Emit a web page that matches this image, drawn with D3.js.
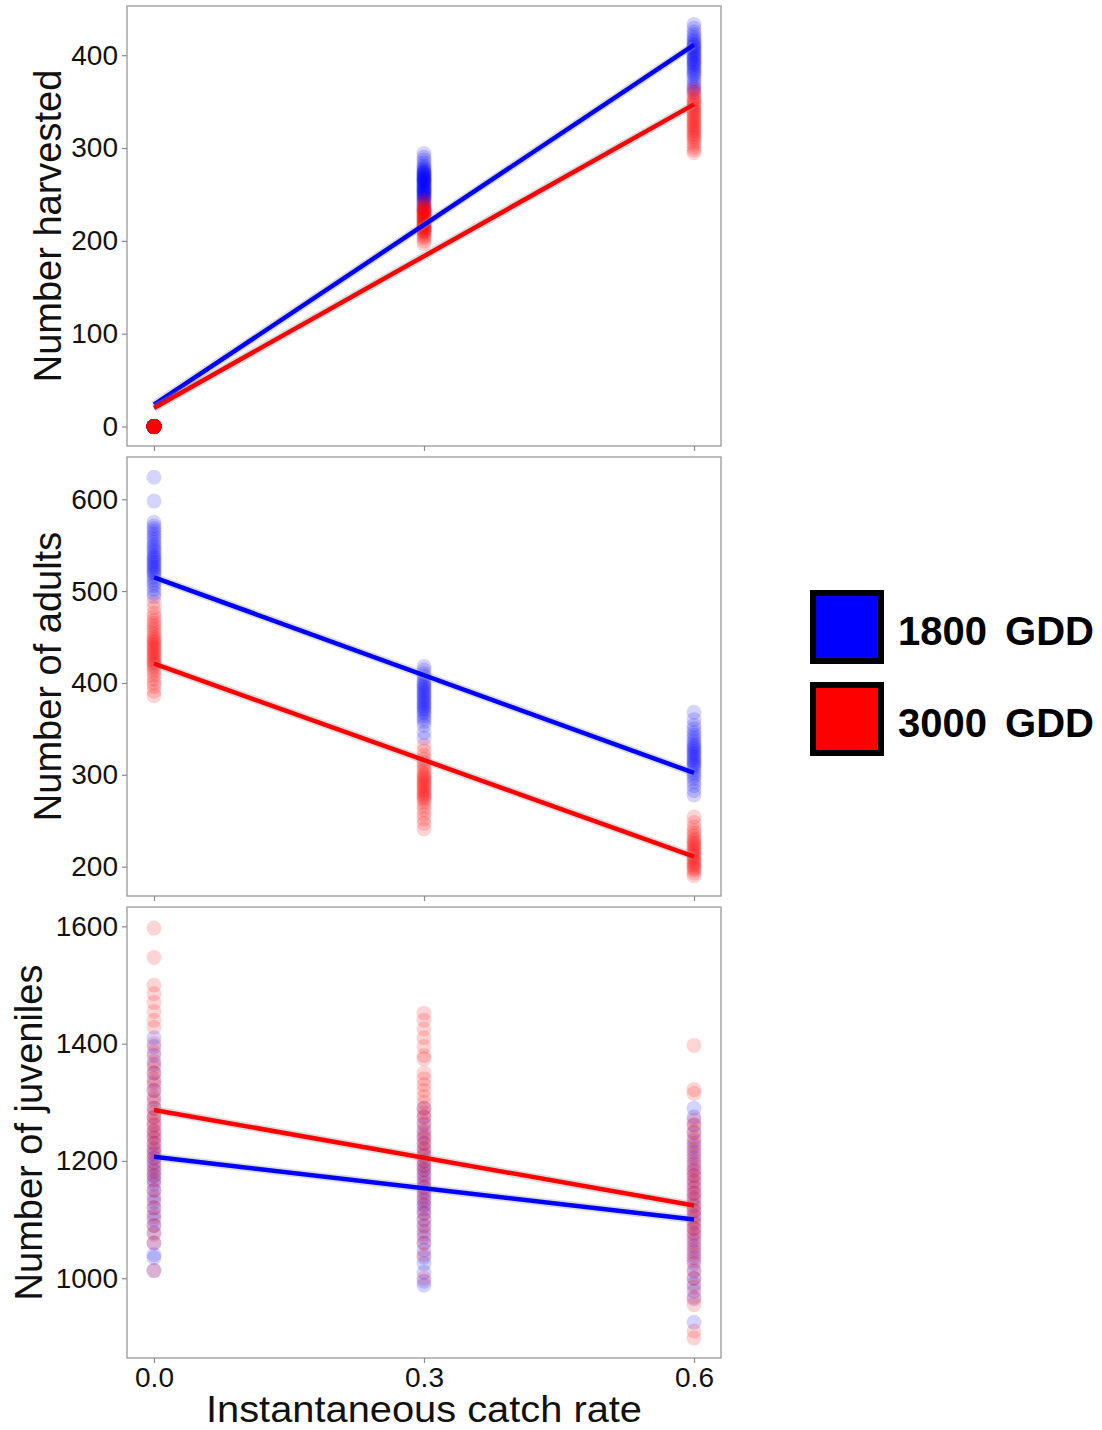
<!DOCTYPE html>
<html lang="en">
<head>
<meta charset="utf-8">
<title>Catch rate vs harvest, adults, juveniles</title>
<script src="https://cdn.jsdelivr.net/npm/d3@7"></script>
<style>
  body { margin: 0; background: #fff; }
  text { font-family: "Liberation Sans", Arial, sans-serif; }
</style>
</head>
<body>
<script>
// catch rates and tick labels
const rates = [0, 0.3, 0.6];
const rateLabels = ["0.0", "0.3", "0.6"];
const groups = ["1800 GDD", "3000 GDD"];
const groupColors = ["#0000ff", "#ff0000"];

// Number harvested, one array per group and catch rate
const harvestBlue0 = [0,0,0,0,0,0,0,0,0,0,0,0,0,0,0,0,0,0,0,0,0,0,0,0,0,0,0,0,0,0];
const harvestBlue3 = [294, 290, 287, 284, 281, 279, 278, 276, 275, 274, 273, 272, 271, 270, 269, 268, 267, 266, 265, 265, 264, 263, 262, 261, 260, 259, 258, 257, 256, 255, 254, 253, 252, 251, 250, 249, 248, 247, 246, 245, 243, 241, 239, 236, 233];
const harvestBlue6 = [433, 429, 425, 422, 419, 417, 415, 413, 411, 410, 408, 406, 405, 403, 401, 400, 398, 396, 395, 393, 391, 390, 388, 386, 384, 382, 380, 378, 375, 372, 369, 366, 363, 360];
const harvestRed0 = [0,0,0,0,0,0,0,0,0,0,0,0,0,0,0,0,0,0,0,0,0,0,0,0,0,0,0,0,0,0];
const harvestRed3 = [244, 241, 238, 236, 235, 234, 233, 232, 231, 230, 229, 228, 227, 226, 225, 224, 223, 222, 221, 220, 219, 218, 217, 216, 215, 214, 213, 212, 211, 210, 209, 207, 205, 203, 200, 197];
const harvestRed6 = [364, 360, 357, 354, 352, 350, 348, 346, 344, 342, 340, 338, 336, 334, 332, 330, 328, 326, 324, 322, 320, 318, 316, 314, 312, 310, 307, 304, 301, 298, 295];

// Number of adults
const adultsBlue0 = [624, 598, 575, 571, 568, 565, 562, 559, 556, 553, 550, 548, 545, 543, 540, 538, 536, 534, 532, 530, 528, 526, 524, 522, 520, 518, 515, 512, 509, 506, 502, 498, 494];
const adultsBlue3 = [418, 414, 410, 407, 404, 401, 399, 397, 395, 393, 391, 389, 387, 385, 383, 381, 379, 377, 375, 373, 371, 369, 367, 364, 361, 358, 354, 346, 340];
const adultsBlue6 = [368, 360, 354, 350, 346, 343, 340, 337, 334, 332, 330, 328, 326, 324, 322, 320, 318, 316, 314, 312, 310, 308, 305, 302, 299, 296, 292, 288, 283, 278];
const adultsRed0 = [488, 482, 476, 472, 468, 465, 462, 459, 456, 453, 450, 448, 446, 444, 442, 440, 438, 436, 434, 432, 430, 428, 426, 424, 422, 420, 418, 415, 412, 408, 404, 400, 396, 391, 386];
const adultsRed3 = [332, 326, 321, 317, 313, 310, 307, 304, 301, 299, 297, 295, 293, 291, 289, 287, 285, 283, 281, 279, 277, 275, 273, 270, 266, 262, 257, 252, 247, 241];
const adultsRed6 = [254, 248, 243, 239, 236, 233, 230, 228, 226, 224, 222, 220, 218, 216, 214, 212, 210, 208, 206, 204, 202, 200, 198, 196, 193, 190];

// Number of juveniles
const juvBlue0 = [1410, 1395, 1380, 1365, 1350, 1335, 1320, 1305, 1290, 1275, 1262, 1250, 1240, 1230, 1220, 1212, 1205, 1198, 1190, 1182, 1175, 1168, 1160, 1150, 1140, 1130, 1120, 1110, 1100, 1090, 1078, 1060, 1040, 1035, 1013];
const juvBlue3 = [1290, 1275, 1262, 1250, 1240, 1230, 1220, 1210, 1200, 1192, 1185, 1178, 1170, 1162, 1155, 1148, 1140, 1132, 1125, 1118, 1110, 1100, 1090, 1080, 1070, 1060, 1048, 1036, 1025, 1010, 995, 988];
const juvBlue6 = [1290, 1275, 1262, 1248, 1235, 1225, 1215, 1205, 1195, 1185, 1175, 1165, 1155, 1145, 1135, 1125, 1115, 1105, 1095, 1085, 1075, 1065, 1055, 1045, 1035, 1025, 1012, 1000, 990, 978, 965, 925];
const juvRed0 = [1597, 1547, 1500, 1485, 1470, 1455, 1440, 1428, 1400, 1385, 1370, 1360, 1350, 1340, 1330, 1320, 1310, 1300, 1290, 1282, 1275, 1268, 1260, 1252, 1245, 1238, 1230, 1222, 1215, 1205, 1195, 1185, 1175, 1165, 1150, 1135, 1120, 1105, 1090, 1075, 1060, 1013];
const juvRed3 = [1452, 1440, 1425, 1410, 1395, 1380, 1374, 1350, 1340, 1330, 1320, 1310, 1300, 1290, 1282, 1275, 1265, 1255, 1245, 1238, 1230, 1222, 1215, 1208, 1200, 1192, 1185, 1175, 1165, 1155, 1145, 1135, 1125, 1112, 1100, 1088, 1075, 1060, 1040, 1000];
const juvRed6 = [1397, 1322, 1315, 1270, 1260, 1250, 1240, 1230, 1220, 1210, 1200, 1190, 1182, 1175, 1168, 1160, 1152, 1145, 1138, 1130, 1122, 1115, 1108, 1100, 1092, 1085, 1078, 1070, 1060, 1050, 1040, 1030, 1015, 1000, 985, 968, 955, 910, 898];

// fitted lines, value at rate 0.0 and 0.6
const harvestFitBlue = [23.5, 411];
const harvestFitRed = [20, 347];
const adultsFitBlue = [515, 302];
const adultsFitRed = [421, 211];
const juvFitBlue = [1207, 1100];
const juvFitRed = [1287, 1124];

// y ticks
const harvestTicks = [0, 100, 200, 300, 400];
const adultsTicks = [200, 300, 400, 500, 600];
const juvTicks = [1000, 1200, 1400, 1600];

const W = 1102, H = 1430;
const left = 127, right = 721;

const panels = [
  { title: "Number harvested", top: 6, bottom: 446, domain: [-21, 453], ticks: harvestTicks, titleX: 61,
    pts: [[harvestBlue0, harvestBlue3, harvestBlue6], [harvestRed0, harvestRed3, harvestRed6]],
    fits: [harvestFitBlue, harvestFitRed] },
  { title: "Number of adults", top: 457, bottom: 896, domain: [168, 646], ticks: adultsTicks, titleX: 61,
    pts: [[adultsBlue0, adultsBlue3, adultsBlue6], [adultsRed0, adultsRed3, adultsRed6]],
    fits: [adultsFitBlue, adultsFitRed] },
  { title: "Number of juveniles", top: 907, bottom: 1358, domain: [864, 1633], ticks: juvTicks, titleX: 42,
    pts: [[juvBlue0, juvBlue3, juvBlue6], [juvRed0, juvRed3, juvRed6]],
    fits: [juvFitBlue, juvFitRed] }
];

const svg = d3.select("body").append("svg")
  .attr("width", W).attr("height", H);

const x = d3.scaleLinear().domain([-0.03, 0.63]).range([left, right]);
const font = "'Liberation Sans', Arial, sans-serif";

panels.forEach((p, pi) => {
  const y = d3.scaleLinear().domain(p.domain).range([p.bottom, p.top]);
  const g = svg.append("g");

  // points: blue group first, red on top
  p.pts.forEach((byRate, gi) => {
    byRate.forEach((vals, ri) => {
      g.selectAll(null).data(vals).enter().append("circle")
        .attr("cx", x(rates[ri]))
        .attr("cy", d => y(d))
        .attr("r", 7.5)
        .attr("fill", groupColors[gi])
        .attr("fill-opacity", 0.17);
    });
  });

  // fitted lines
  p.fits.forEach((f, gi) => {
    const seg = [[0, f[0]], [0.6, f[1]]];
    const line = d3.line().x(d => x(d[0])).y(d => y(d[1]));
    g.append("path").attr("d", line(seg))
      .attr("stroke", "#999").attr("stroke-opacity", 0.35)
      .attr("stroke-width", 8).attr("fill", "none");
    g.append("path").attr("d", line(seg))
      .attr("stroke", groupColors[gi]).attr("stroke-width", 4.5)
      .attr("fill", "none");
  });

  // panel border
  g.append("rect")
    .attr("x", left).attr("y", p.top)
    .attr("width", right - left).attr("height", p.bottom - p.top)
    .attr("fill", "none").attr("stroke", "#a6a6a6").attr("stroke-width", 1.5);

  // y axis
  const ya = svg.append("g").attr("transform", `translate(${left},0)`)
    .call(d3.axisLeft(y).tickValues(p.ticks).tickSize(5).tickPadding(4).tickFormat(d3.format("d")));
  ya.select(".domain").remove();
  ya.selectAll(".tick line").attr("stroke", "#8c8c8c").attr("stroke-width", 1.2);
  ya.selectAll(".tick text").attr("fill", "#111").style("font-size", "28px")
    .style("font-family", font);

  // x axis ticks under each panel, labels only on the last
  const xa = svg.append("g").attr("transform", `translate(0,${p.bottom})`)
    .call(d3.axisBottom(x).tickValues(rates).tickSize(5).tickPadding(4)
      .tickFormat((d, i) => pi === panels.length - 1 ? rateLabels[i] : ""));
  xa.select(".domain").remove();
  xa.selectAll(".tick line").attr("stroke", "#8c8c8c").attr("stroke-width", 1.2);
  xa.selectAll(".tick text").attr("fill", "#111").style("font-size", "28px")
    .style("font-family", font);

  // y title
  svg.append("text")
    .attr("transform", `translate(${p.titleX},${(p.top + p.bottom) / 2}) rotate(-90)`)
    .attr("text-anchor", "middle")
    .style("font-size", "38px").attr("fill", "#111")
    .text(p.title);
});

// x title
svg.append("text")
  .attr("x", 424).attr("y", 1422)
  .attr("text-anchor", "middle")
  .attr("textLength", 436).attr("lengthAdjust", "spacingAndGlyphs")
  .style("font-size", "37px").attr("fill", "#111")
  .text("Instantaneous catch rate");

// legend
const legend = svg.append("g");
groups.forEach((name, i) => {
  const top = 590 + i * 92;
  legend.append("rect")
    .attr("x", 813).attr("y", top + 3)
    .attr("width", 68).attr("height", 68)
    .attr("fill", groupColors[i])
    .attr("stroke", "#000").attr("stroke-width", 6);
  legend.append("text")
    .attr("x", 898).attr("y", top + 55)
    .style("font-size", "40px").style("font-weight", "bold")
    .style("word-spacing", "7px")
    .attr("fill", "#000")
    .text(name);
});
</script>
</body>
</html>
